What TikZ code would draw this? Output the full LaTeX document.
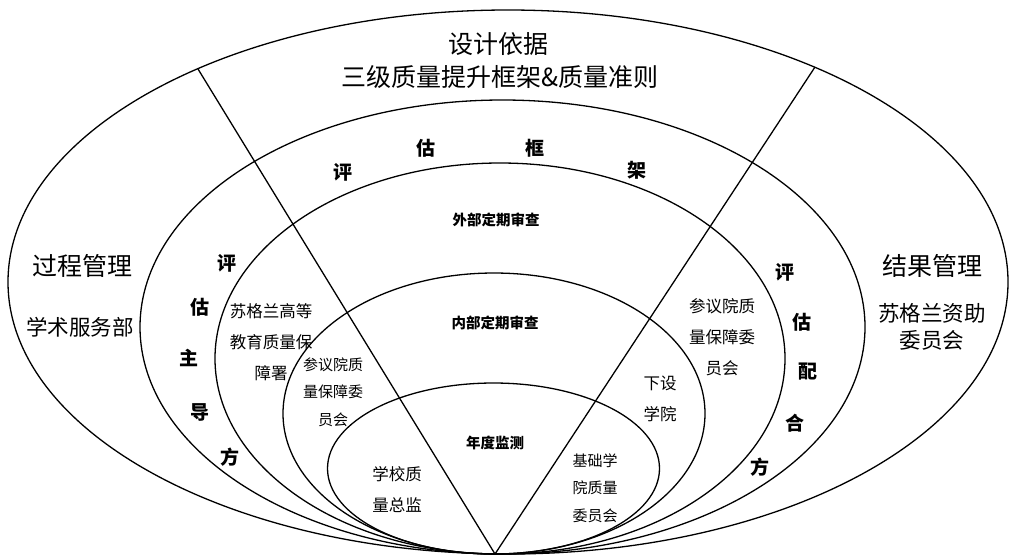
\documentclass[tikz,border=0pt]{standalone}
\usepackage{fontspec}
\newfontfamily\cjk{Noto Sans CJK SC}
\begin{document}
\begin{tikzpicture}[x=1pt,y=-1pt,line width=1.3pt,
  ring/.style={draw=black},
  sep/.style={draw=black},
  lbl/.style={inner sep=0pt,align=center,text=black},
  title/.style={lbl,font=\cjk\fontsize{25}{31}\selectfont},
  side/.style={lbl,font=\cjk\fontsize{25}{30}\selectfont},
  sidesub/.style={lbl,font=\cjk\fontsize{21.5}{27}\selectfont},
  bold/.style={lbl,font=\cjk\bfseries\fontsize{19}{22}\selectfont},
  level/.style={lbl,font=\cjk\bfseries\fontsize{14.5}{18}\selectfont},
  body/.style={lbl,font=\cjk\fontsize{16.5}{31}\selectfont},
  small/.style={lbl,font=\cjk\fontsize{15}{27.5}\selectfont}]
\useasboundingbox (0,0) rectangle (1014,558);
% rings
\draw[ring] (508,282) ellipse [x radius=500pt, y radius=272pt];
\draw[ring] (502.5,327) ellipse [x radius=362.5pt, y radius=227pt];
\draw[ring] (500,358.5) ellipse [x radius=285pt, y radius=195.5pt];
\draw[ring] (494,413.5) ellipse [x radius=211pt, y radius=140.5pt];
\draw[ring] (493.5,468.5) ellipse [x radius=166pt, y radius=85.5pt];
% separators
\coordinate (B) at (495,554);
\coordinate (L) at (198,69);
\coordinate (R) at (815,67);
\draw[sep] (B) -- (L);
\draw[sep] (B) -- (R);
% top
\node[title] (t1) at (498,44) {设计依据};
\node[title] (t2) at (500,77) {三级质量提升框架\&质量准则};
% left / right outer
\node[side] (pm) at (82,266) {过程管理};
\node[sidesub] (asd) at (80,327) {学术服务部};
\node[side] (rm) at (932,266) {结果管理};
\node[sidesub] (sfc) at (932,327) {苏格兰资助\\委员会};
% 评估框架
\node[bold] (f1) at (343,172) {评};
\node[bold] (f2) at (426,148) {估};
\node[bold] (f3) at (535,148) {框};
\node[bold] (f4) at (637,170) {架};
% levels
\node[level] (ext) at (496,220) {外部定期审查};
\node[level] (int) at (495,323) {内部定期审查};
\node[level] (ann) at (495,443) {年度监测};
% 评估主导方
\node[bold] (l1) at (227,263) {评};
\node[bold] (l2) at (200,307) {估};
\node[bold] (l3) at (189,358) {主};
\node[bold] (l4) at (200,412) {导};
\node[bold] (l5) at (230,457) {方};
% 评估配合方
\node[bold] (r1) at (785,272) {评};
\node[bold] (r2) at (802,322) {估};
\node[bold] (r3) at (808,372) {配};
\node[bold] (r4) at (795,423) {合};
\node[bold] (r5) at (760,467) {方};
% inner texts
\node[body] (qaa) at (271,342) {苏格兰高等\\教育质量保\\障署};
\node[small] (senL) at (333,392) {参议院质\\量保障委\\员会};
\node[body] (sch) at (397,490) {学校质\\量总监};
\node[body] (senR) at (722,337) {参议院质\\量保障委\\员会};
\node[body] (col) at (660,399) {下设\\学院};
\node[small] (base) at (595,488) {基础学\\院质量\\委员会};
\end{tikzpicture}
\end{document}
